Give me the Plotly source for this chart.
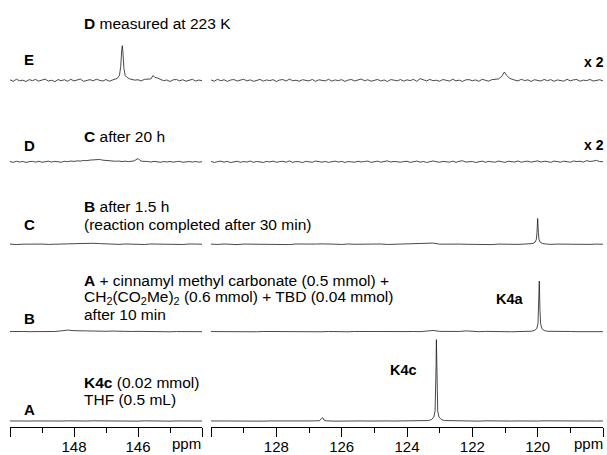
import plotly.graph_objects as go

# ---------------- data ----------------
# ppm sampling grids of the two spectral windows
left_grid = [round(150.0 - 0.2 * i, 1) for i in range(31)]
right_grid = [round(130.0 - 0.2 * i, 1) for i in range(61)]
left_grid_fine = [round(150.0 - 0.1 * i, 1) for i in range(61)]
right_grid_fine = [round(130.0 - 0.1 * i, 1) for i in range(121)]

# baseline intensities (arbitrary units)
E_left = [0.6, -0.9, 1.2, -0.4, 0.3, -1.1, 0.8, -0.2, 1.0, -0.7,
          0.4, 1.3, -0.6, 0.2, -1.2, 0.9, -0.3, 0.7, -0.8, 1.1,
          -0.5, 0.6, 1.4, -0.9, 0.3, 0.8, -0.4, 1.2, 0.1, -0.6,
          0.9, -0.8, 0.5, -0.3, 1.0, 0.4, -0.7, 0.6, -1.0, 0.3,
          0.7, -0.5, 1.1, -0.9, 0.2, 0.8, -0.6, 1.0, -0.3, 0.5,
          -1.1, 0.6, 0.9, -0.4, 0.7, -0.8, 0.3, 1.1, -0.6, 0.4,
          -0.2]
E_right = [0.5, -0.8, 1.1, -0.3, 0.7, -1.0, 0.4, 0.9, -0.6, 0.2,
           1.2, -0.5, 0.6, -0.9, 0.3, 1.0, -0.7, 0.5, -0.2, 0.8,
           -1.1, 0.4, 0.9, -0.6, 1.3, -0.3, 0.2, -0.8, 0.7, 0.1,
           -0.5, 1.0, -0.9, 0.6, 0.3, -0.4, 1.1, -0.7, 0.5, -0.2,
           0.8, -1.0, 0.4, 0.9, -0.5, 0.6, 1.4, -0.3, 0.7, -0.8,
           0.2, 1.0, -0.6, 0.5, -1.1, 0.8, 0.3, -0.4, 0.9, -0.7,
           0.6, -0.2, 1.1, -0.9, 1.8, 0.7, -0.5, 1.0, -0.3, 0.2,
           -0.8, 0.9, 0.5, -0.6, 1.2, -0.4, 0.3, -1.0, 0.6, 0.8,
           -0.3, 0.5, -0.9, 1.1, 0.2, -0.7, 0.8, -0.4, 1.0, -0.6,
           0.4, 0.9, -0.8, 0.3, -0.5, 1.2, -0.2, 0.6, -1.0, 0.7,
           0.1, -0.6, 1.0, -0.3, 0.8, -0.9, 0.5, 0.2, -0.7, 1.1,
           -0.4, 0.6, 0.9, -0.8, 0.3, -0.2, 1.0, -0.6, 0.4, 0.7,
           -0.5]
E_peak_ppm = [146.75, 146.65, 146.58, 146.54, 146.51, 146.49, 146.47, 146.44, 146.40, 146.34, 146.26,
              145.60, 145.53, 145.47, 145.40,
              121.20, 121.10, 121.02, 120.95, 120.85]
E_peak_int = [1.0, 2.0, 5.0, 14.0, 30.0, 35.0, 28.0, 12.0, 5.0, 3.0, 1.5,
              1.5, 5.0, 3.0, 2.5,
              1.5, 4.0, 8.5, 5.0, 2.0]

D_left = [0.3, -0.5, 0.6, -0.2, 0.4, -0.6, 0.2, 0.5, -0.3, 0.6,
          -0.4, 0.3, 0.7, -0.2, 0.5, 0.1, -0.4, 0.6, 0.2, 0.8,
          0.5, 1.0, 0.8, 1.4, 1.2, 1.8, 2.2, 2.0, 2.4, 1.7,
          1.3, 0.9, 1.2, 0.6, 0.8, 0.3, 0.7, 0.2, 0.5, 0.9,
          0.6, 0.2, -0.3, 0.4, -0.2, 0.5, 0.0, -0.4, 0.3, -0.1,
          0.4, -0.3, 0.2, 0.5, -0.4, 0.1, 0.3, -0.2, 0.4, -0.3,
          0.2]
D_right = [0.4, -0.6, 0.2, 0.7, -0.3, 0.5, -0.7, 0.1, 0.6, -0.4,
           0.3, -0.2, 0.8, -0.5, 0.4, 0.0, -0.6, 0.5, -0.1, 0.7,
           -0.4, 0.2, 0.6, -0.3, 0.9, -0.5, 0.3, 0.1, -0.7, 0.5,
           0.2, -0.4, 0.8, 0.6, -0.3, 0.4, -0.5, 0.1, 0.7, -0.2,
           0.5, -0.6, 0.3, 0.0, -0.4, 0.6, -0.1, 0.4, 0.8, -0.5,
           0.2, 0.7, -0.3, 0.5, 1.0, -0.2, 0.4, 0.1, -0.4, 0.3,
           0.6, -0.5, 0.2, 0.8, -0.3, 0.4, -0.6, 0.3, 0.9, 0.1,
           -0.4, 0.5, 0.2, -0.3, 0.7, -0.5, 0.6, 1.1, -0.2, 0.3,
           0.4, -0.6, 0.1, 0.7, -0.4, 0.5, 0.0, -0.3, 0.8, 0.2,
           -0.5, 0.6, 0.3, -0.2, 0.9, -0.4, 0.4, 0.7, -0.3, 0.5,
           1.0, -0.2, 0.6, 0.3, -0.5, 0.8, 0.2, -0.3, 0.7, 0.4,
           -0.4, 0.9, 0.3, 0.6, -0.2, 1.2, 0.4, 0.8, 1.5, 0.3,
           0.2]
D_peak_ppm = [146.12, 146.05, 146.00, 145.95, 145.88]
D_peak_int = [1.0, 2.6, 3.4, 1.8, 0.6]

C_left = [0.2, -0.3, 0.1, 0.3, -0.2, 0.2, -0.1, 0.3, 0.0, 0.4,
          0.6, 0.9, 1.1, 1.0, 0.7, 0.4, 0.2, -0.1, 0.3, 0.0,
          0.2, -0.2, 0.3, 0.1, -0.3, 0.2, 0.0, -0.2, 0.3, -0.1,
          0.1]
C_right = [0.2, -0.2, 0.3, 0.0, -0.3, 0.2, 0.1, -0.2, 0.3, -0.1,
           0.2, 0.0, -0.3, 0.3, 0.1, -0.2, 0.2, 0.4, -0.1, 0.1,
           -0.2, 0.3, 0.0, 0.2, -0.3, 0.1, 0.3, -0.2, 0.0, 0.2,
           -0.1, 0.3, 0.2, 0.4, 1.2, 0.1, 0.3, -0.1, 0.2, 0.0,
           -0.2, 0.2, 0.1, -0.3, 0.2, 0.0, 0.3, -0.1, 0.2, -0.2,
           0.1, 0.3, -0.1, 0.2, 0.0, -0.2, 0.3, 0.1, -0.1, 0.2,
           0.0]
C_peak_ppm = [120.25, 120.15, 120.08, 120.04, 120.02, 120.00, 119.98, 119.96, 119.92, 119.85, 119.75]
C_peak_int = [0.3, 0.8, 2.0, 5.0, 12.0, 26.0, 12.0, 5.0, 2.0, 0.8, 0.3]

B_left = [0.1, -0.2, 0.2, 0.0, -0.1, 0.3, 0.0, 0.2, 0.8, 1.6,
          1.0, 0.8, 0.6, 0.7, 0.5, 0.4, 0.6, 0.3, 0.5, 0.2,
          0.3, 0.1, 0.2, 0.0, 0.2, -0.1, 0.1, 0.2, 0.0, 0.1,
          0.0]
B_right = [0.1, 0.0, 0.2, -0.1, 0.1, 0.2, 0.0, -0.1, 0.2, 0.1,
           0.0, 0.2, -0.1, 0.1, 0.0, 0.2, 0.1, -0.1, 0.2, 0.0,
           0.1, -0.1, 0.2, 0.1, 0.0, 0.2, -0.1, 0.1, 0.2, 0.0,
           0.1, 0.2, 0.0, 0.6, 1.2, 0.3, 0.1, 0.0, 0.2, 0.8,
           0.1, 0.0, 0.3, 0.1, 0.2, 0.0, -0.1, 0.1, 0.2, 0.0,
           0.1, -0.1, 0.2, 0.0, 0.1, 0.2, 0.0, 0.1, -0.1, 0.1,
           0.0]
B_peak_ppm = [120.20, 120.10, 120.03, 119.99, 119.97, 119.95, 119.93, 119.91, 119.87, 119.80, 119.70]
B_peak_int = [0.4, 1.2, 3.0, 8.0, 22.0, 51.0, 22.0, 8.0, 3.0, 1.2, 0.4]

A_left = [0.1, -0.1, 0.2, 0.0, 0.1, -0.1, 0.2, 0.1, 0.0, 0.2,
          -0.1, 0.1, 0.0, 0.2, 0.1, -0.1, 0.1, 0.2, 0.0, 0.1,
          -0.1, 0.2, 0.0, 0.1, 0.2, -0.1, 0.1, 0.0, 0.2, 0.1,
          0.0]
A_right = [0.1, 0.0, 0.2, -0.1, 0.1, 0.0, 0.2, 0.1, -0.1, 0.1,
           0.0, 0.2, 0.1, 0.0, -0.1, 0.1, 0.2, 0.0, 0.1, -0.1,
           0.1, 0.2, 0.0, 0.1, 0.0, 0.2, -0.1, 0.1, 0.0, 0.2,
           0.1, 0.0, 0.2, 0.1, -0.1, 0.1, 0.0, 0.2, 0.1, 0.0,
           0.1, -0.1, 0.2, 0.0, 0.1, 0.2, 0.0, 0.1, -0.1, 0.1,
           0.0, 0.2, 0.1, 0.0, 0.1, -0.1, 0.2, 0.0, 0.1, 0.0,
           0.1]
A_peak_ppm = [126.68, 126.62, 126.58, 126.54, 126.48,
              123.35, 123.25, 123.18, 123.14, 123.12, 123.11, 123.10, 123.09, 123.08, 123.06, 123.02, 122.95, 122.85]
A_peak_int = [0.3, 2.5, 3.5, 1.0, 0.2,
              0.5, 1.5, 4.0, 10.0, 28.0, 55.0, 82.0, 55.0, 28.0, 10.0, 4.0, 1.5, 0.5]

left_ticks = [150, 148, 146, 144]
left_ticktext = ["", "148", "146", ""]
left_minor = [149, 147, 145]
right_ticks = [130, 128, 126, 124, 122, 120, 118]
right_ticktext = ["", "128", "126", "124", "122", "120", ""]
right_minor = [129, 127, 125, 123, 121, 119]

# ---------------- layout constants ----------------
W, H = 607, 455
AXIS_PX = 430  # pixel row of the x axes
FONT = "Liberation Sans, Arial, sans-serif"
TXT = 15.5

spectra = [
    ("E", left_grid_fine, E_left, right_grid_fine, E_right, E_peak_ppm, E_peak_int, 349),
    ("D", left_grid_fine, D_left, right_grid_fine, D_right, D_peak_ppm, D_peak_int, 267),
    ("C", left_grid, C_left, right_grid, C_right, C_peak_ppm, C_peak_int, 184),
    ("B", left_grid, B_left, right_grid, B_right, B_peak_ppm, B_peak_int, 96),
    ("A", left_grid, A_left, right_grid, A_right, A_peak_ppm, A_peak_int, 6),
]


def build(grid, base, pk_ppm, pk_int, lo, hi):
    extra = [(p, v) for p, v in zip(pk_ppm, pk_int) if lo <= p <= hi]
    pts = [(g, b) for g, b in zip(grid, base)
           if all(abs(g - p) > 0.11 for p, _ in extra)] + extra
    pts.sort(key=lambda t: -t[0])
    return [p for p, _ in pts], [v for _, v in pts]


fig = go.Figure()
for name, gl, bl, gr, br, pp, pi, off in spectra:
    xs, ys = build(gl, bl, pp, pi, 140, 160)
    fig.add_trace(go.Scatter(x=xs, y=[v + off for v in ys], xaxis="x", yaxis="y",
                             mode="lines", line=dict(color="#1a1a1a", width=0.8),
                             hoverinfo="skip", name=name))
    xs, ys = build(gr, br, pp, pi, 110, 135)
    fig.add_trace(go.Scatter(x=xs, y=[v + off for v in ys], xaxis="x2", yaxis="y",
                             mode="lines", line=dict(color="#1a1a1a", width=0.8),
                             hoverinfo="skip", name=name))

axis_common = dict(showline=True, linecolor="black", linewidth=1, ticks="outside",
                   ticklen=9, tickwidth=1, tickcolor="black", showgrid=False,
                   zeroline=False, anchor="y", ticklabelstandoff=-3,
                   tickfont=dict(family=FONT, size=15, color="black"))

fig.update_layout(
    width=W, height=H,
    margin=dict(l=0, r=0, t=0, b=H - AXIS_PX),
    paper_bgcolor="white", plot_bgcolor="white",
    showlegend=False,
    xaxis=dict(domain=[10 / W, 202 / W], range=[150, 144],
               tickvals=left_ticks, ticktext=left_ticktext,
               minor=dict(tickvals=left_minor, ticklen=5, ticks="outside",
                          tickcolor="black", tickwidth=1, showgrid=False),
               **axis_common),
    xaxis2=dict(domain=[211 / W, 603 / W], range=[130, 118],
                tickvals=right_ticks, ticktext=right_ticktext,
                minor=dict(tickvals=right_minor, ticklen=5, ticks="outside",
                           tickcolor="black", tickwidth=1, showgrid=False),
                **axis_common),
    yaxis=dict(range=[0, AXIS_PX], visible=False, fixedrange=True, domain=[0, 1]),
)


def note(text, px, py, anchor="left", size=TXT):
    fig.add_annotation(text=text, x=px / W, y=(AXIS_PX - py) / AXIS_PX,
                       xref="paper", yref="paper",
                       xanchor=anchor, yanchor="middle", showarrow=False,
                       font=dict(family=FONT, size=size, color="black"))


note("<b>D</b> measured at 223 K", 82, 24)
note("<b>E</b>", 22, 60, size=15)
note("<b>x 2</b>", 594, 62, "center", 14)
note("<b>C</b> after 20 h", 82, 137)
note("<b>D</b>", 22, 147, size=15)
note("<b>x 2</b>", 594, 146, "center", 14)
note("<b>B</b> after 1.5 h", 82, 208)
note("(reaction completed after 30 min)", 82, 226)
note("<b>C</b>", 22, 226, size=15)
note("<b>A</b> + cinnamyl methyl carbonate (0.5 mmol) +", 82, 282)
note("CH<sub>2</sub>(CO<sub>2</sub>Me)<sub>2</sub> (0.6 mmol) + TBD (0.04 mmol)", 82, 300)
note("after 10 min", 82, 317)
note("<b>B</b>", 22, 321, size=15)
note("<b>K4a</b>", 510, 301, "center", 14.5)
note("<b>K4c</b>", 404, 373, "center", 14.5)
note("<b>K4c</b> (0.02 mmol)", 82, 385)
note("THF (0.5 mL)", 82, 402)
note("<b>A</b>", 22, 412, size=15)
note("ppm", 186, 447, "center", 15)
note("ppm", 588, 447, "center", 15)

fig.write_html(
    "out.html",
    config={"displayModeBar": False},
    post_script="document.body.style.margin='0';document.body.style.overflow='hidden';",
)
